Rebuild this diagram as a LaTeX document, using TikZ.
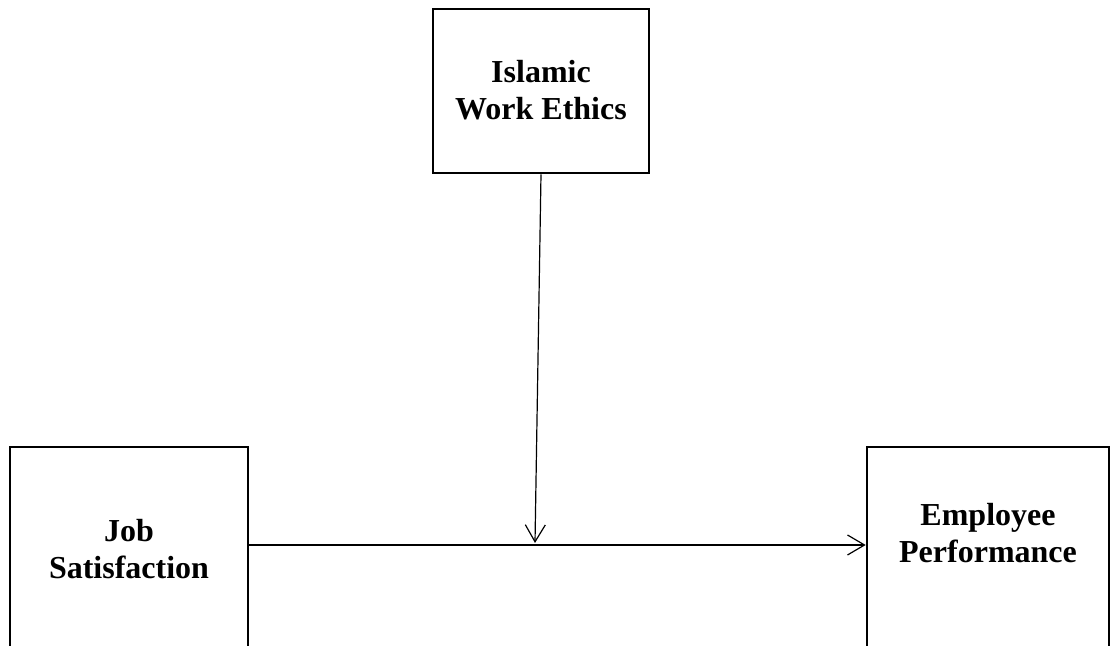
\documentclass[tikz,border=0pt]{standalone}
\usepackage{fontspec}
\setmainfont{Liberation Serif}
\usetikzlibrary{arrows.meta}

\tikzset{
  varbox/.style={draw,line width=1.3pt,rectangle,inner sep=0pt},
  varlabel/.style={align=center,inner sep=0pt,font=\fontsize{16}{18.5}\selectfont\bfseries},
  link/.style={line width=0.6pt,-{Straight Barb[length=8.5pt,width=10pt]}}
}

\begin{document}
\begin{tikzpicture}[x=0.5pt,y=0.5pt]
    % page size (one unit = one pixel of the layout)
    \useasboundingbox (0,0) rectangle (1110,646);

    % the three variable boxes
    \node[varbox,minimum width=108pt,minimum height=82pt] (iwe) at (541,555) {};
    \node[varbox,minimum width=119pt,minimum height=101pt] (js) at (129,98) {};
    \node[varbox,minimum width=121pt,minimum height=101pt] (ep) at (988,98) {};

    % box texts
    \node[varlabel] (iwetext) at (541,556) {Islamic\\Work Ethics};
    \node[varlabel] (jstext) at (129,97) {Job\\Satisfaction};
    \node[varlabel] (eptext) at (988,113) {Employee\\Performance};

    % point where the moderator meets the main path
    \coordinate (mod) at (535,103);

    % main path and moderating arrow
    \draw[link] ([yshift=1.5pt]js.east) -- ([yshift=1.5pt]ep.west);
    \draw[link] (iwe.south) -- (mod);
\end{tikzpicture}
\end{document}
